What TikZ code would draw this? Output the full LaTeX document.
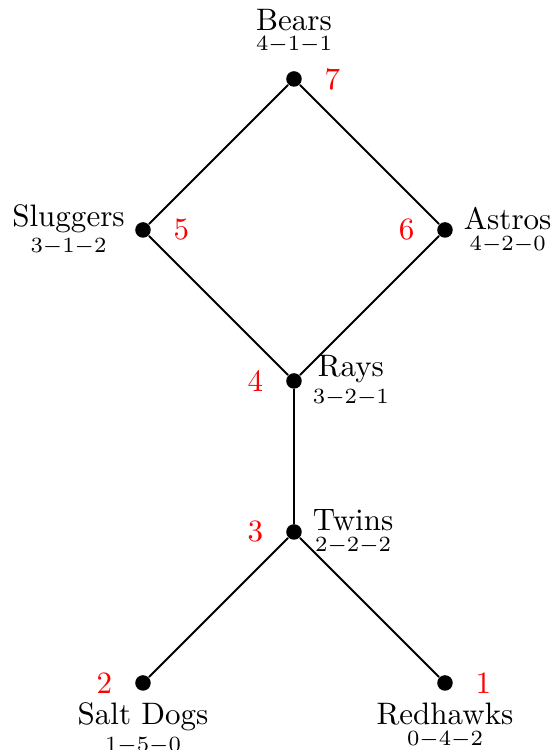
\documentclass[tikz,border=0pt]{standalone}
\usepackage{amsmath}
\usetikzlibrary{positioning}

\newcommand{\teamrec}[2]{\shortstack{#1\\[-1pt]\scriptsize$#2$}}

\begin{document}
\begin{tikzpicture}[x=1.71cm, y=1.71cm, every node/.style={font=\normalsize},
	dot/.style={circle, fill=black, inner sep=0pt, minimum size=5pt},
	team/.style={inner sep=0pt},
	seed/.style={red, inner sep=0pt}]
	\useasboundingbox (-1.947,-0.444) rectangle (1.728,4.523);
	% teams
	\node[dot] (bears) at (0,4) {};
	\node[dot] (slug) at (-1,3) {};
	\node[dot] (astros) at (1,3) {};
	\node[dot] (rays) at (0,2) {};
	\node[dot] (twins) at (0,1) {};
	\node[dot] (salt) at (-1,0) {};
	\node[dot] (hawks) at (1,0) {};
	% bracket
	\draw[semithick] (bears) -- (slug) -- (rays) -- (astros) -- (bears);
	\draw[semithick] (rays) -- (twins);
	\draw[semithick] (twins) -- (salt);
	\draw[semithick] (twins) -- (hawks);
	% names and records
	\node[team, above=5.4pt of bears] (bears-t) {\teamrec{Bears}{4{-}1{-}1}};
	\node[team, left=3pt of slug] (slug-t) {\teamrec{Sluggers}{3{-}1{-}2}};
	\node[team, right=3.2pt of astros] (astros-t) {\teamrec{Astros}{4{-}2{-}0}};
	\node[team, right=3.2pt of rays] (rays-t) {\teamrec{Rays}{3{-}2{-}1}};
	\node[team, right=3.2pt of twins] (twins-t) {\teamrec{Twins}{2{-}2{-}2}};
	\node[team, below=3.5pt of salt] (salt-t) {\teamrec{Salt Dogs}{1{-}5{-}0}};
	\node[team, below=3.5pt of hawks] (hawks-t) {\teamrec{Redhawks}{0{-}4{-}2}};
	% seeds
	\node[seed, right=7pt of bears] (bears-s) {7};
	\node[seed, right=7pt of slug] (slug-s) {5};
	\node[seed, left=7pt of astros] (astros-s) {6};
	\node[seed, left=7pt of rays] (rays-s) {4};
	\node[seed, left=7pt of twins] (twins-s) {3};
	\node[seed, left=7pt of salt] (salt-s) {2};
	\node[seed, right=7pt of hawks] (hawks-s) {1};
\end{tikzpicture}
\end{document}
